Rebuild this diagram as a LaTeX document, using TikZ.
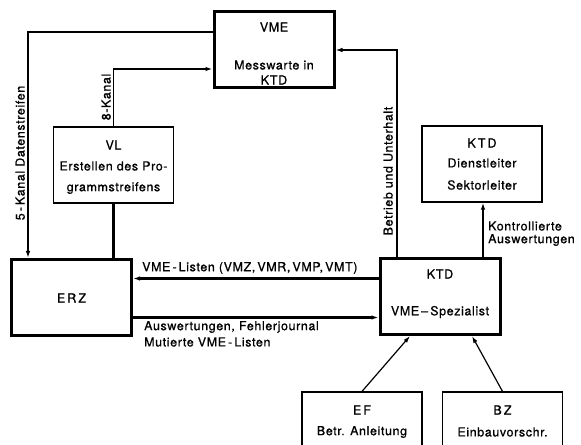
\documentclass[tikz,border=0pt]{standalone}
\usepackage{fontspec}
\setmainfont{TeX Gyre Heros}[LetterSpace=5, FakeBold=0.8]
\usetikzlibrary{arrows.meta,calc}

\begin{document}
\begin{tikzpicture}[x=1bp, y=-1bp,
  font=\fontsize{12.5}{14}\selectfont,
  box/.style={draw, line width=1.2bp, minimum width=120bp, minimum height=76bp, inner sep=0pt},
  heavy/.style={box, line width=3bp},
  txt/.style={inner sep=0pt},
  lab/.style={inner sep=0pt, anchor=west},
  vlab/.style={inner sep=0pt, rotate=90, anchor=south},
  tip/.style={-{Latex[length=7bp, width=4.5bp]}}]
\clip (0,0) rectangle (581,445);
\node[heavy] (vme) at (274,50) {};
\node[box] (vl) at (113.5,165) {};
\node[heavy] (erz) at (71.5,297.5) {};
\node[heavy] (ktd) at (440,296.5) {};
\node[box] (kd) at (482,164) {};
\node[box] (ef) at (362,430) {};
\node[box] (bz) at (502.5,430) {};
\node[txt] (vme1) at (274,27) {VME};
\node[txt] (vme2) at (274,65) {Messwarte in};
\node[txt] (vme3) at (274,80) {KTD};
\node[txt] (vl1) at (113.5,145) {VL};
\node[txt] (vl2) at (113.5,166) {Erstellen des Pro-};
\node[txt] (vl3) at (113.5,188) {grammstreifens};
\node[txt] (erz1) at (71.5,298) {E\,R\,Z};
\node[txt] (ktd1) at (440,274) {KTD};
\node[txt] (ktd2) at (440,312) {VME\,--\,Spezialist};
\node[txt] (kd1) at (482,143) {K\,T\,D};
\node[txt] (kd2) at (482,163) {Dienstleiter};
\node[txt] (kd3) at (482,185) {Sektorleiter};
\node[txt] (ef1) at (362,410) {E\,F};
\node[txt] (ef2) at (362,432) {Betr. Anleitung};
\node[txt] (bz1) at (502.5,410) {B\,Z};
\node[txt] (bz2) at (502.5,432) {Einbauvorschr.};
\draw[tip, line width=2.2bp] ([yshift=18bp]vme.west) -| ([xshift=18bp]erz.north west);
\draw[tip, line width=1.6bp] (vl.north) |- ([yshift=-19bp]vme.west);
\draw[line width=2.2bp] (vl.south) -- (vl.south |- erz.north);
\draw[tip, line width=2.2bp] ([yshift=19bp]erz.east -| ktd.west) -- ([yshift=19bp]erz.east);
\draw[tip, line width=2.2bp] ([yshift=-20bp]erz.east) -- ([yshift=-20bp]erz.east -| ktd.west);
\draw[tip, line width=1.2bp] ([xshift=-43bp]ktd.north) |- (vme.east);
\draw[tip, line width=1.6bp] ([xshift=43bp]ktd.north) -- ([xshift=43bp]ktd.north |- kd.south);
\draw[tip, line width=1.2bp] (ef.north) -- ([xshift=-30bp]ktd.south);
\draw[tip, line width=1.2bp] (bz.north) -- ([xshift=32bp]ktd.south);
\node[vlab] (l5) at (25,153) {5\,-\,Kanal Datenstreifen};
\node[vlab] (l8) at (111,97) {8-Kanal};
\node[vlab] (lbu) at (393,171) {Betrieb und Unterhalt};
\node[lab] (lvl) at (142,268) {VME\,-\,Listen (VMZ,\,VMR,\,VMP,\,VMT)};
\node[lab] (la1) at (144,327) {Auswertungen, Fehlerjournal};
\node[lab] (la2) at (144,342) {Mutierte VME\,-\,Listen};
\node[lab] (lk1) at (488,226) {Kontrollierte};
\node[lab] (lk2) at (488,240) {Auswertungen};
\end{tikzpicture}
\end{document}
